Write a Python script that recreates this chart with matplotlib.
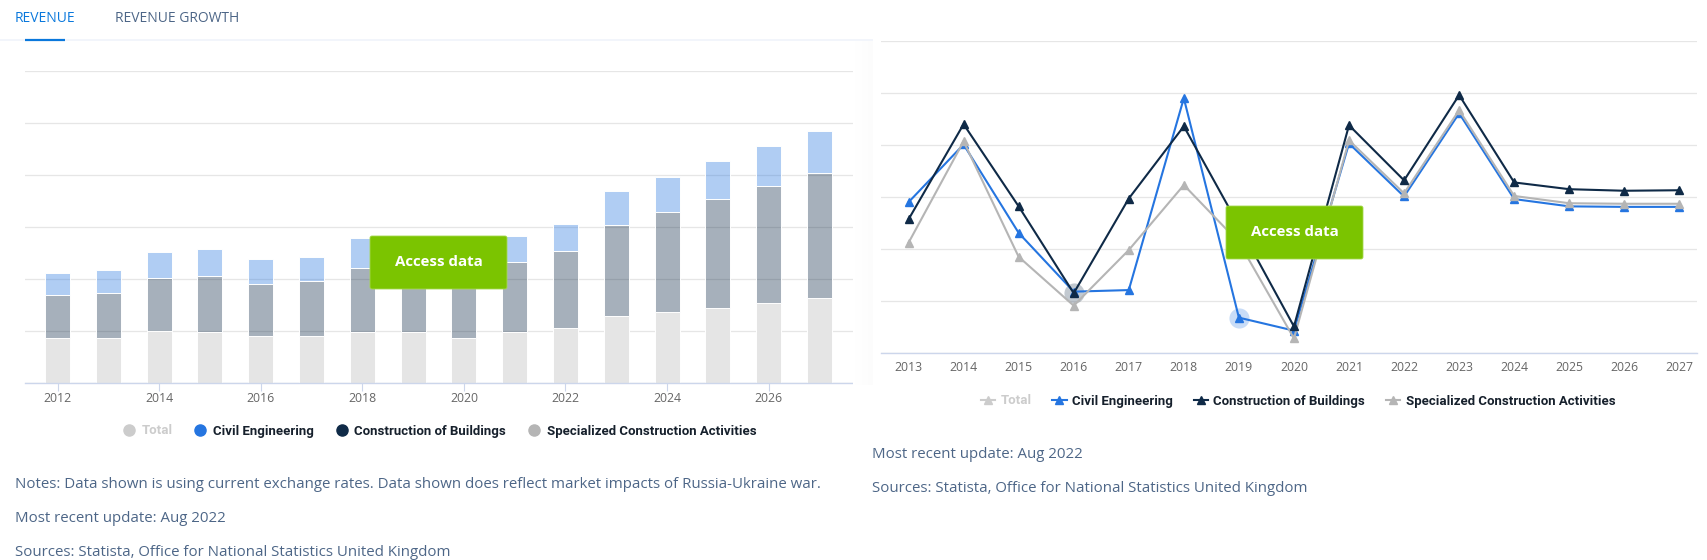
import numpy as np
import matplotlib
matplotlib.use('Agg')
import matplotlib.pyplot as plt
from matplotlib.colors import to_rgba
from matplotlib.lines import Line2D
from matplotlib.patches import FancyBboxPatch

plt.rcParams['font.family'] = ['Open Sans', 'DejaVu Sans']

W, H = 1708, 560

# left panel, stacked revenue
bar_years = list(range(2012, 2028))
specialized = [8.6, 8.6, 10.0, 9.8, 9.0, 9.0, 9.8, 9.8, 8.6, 9.8, 10.5, 12.8, 13.7, 14.4, 15.3, 16.3]
construction = [8.3, 8.8, 10.1, 10.7, 10.0, 10.7, 12.4, 12.2, 12.4, 13.4, 14.8, 17.6, 19.1, 21.0, 22.6, 24.1]
civil = [4.2, 4.3, 5.0, 5.2, 4.8, 4.6, 5.7, 5.7, 6.2, 5.1, 5.2, 6.5, 6.9, 7.3, 7.7, 8.1]

# right panel, revenue growth
line_years = list(range(2013, 2028))
growth_civil = [29.0, 40.1, 23.1, 11.8, 12.1, 49.0, 6.8, 4.3, 40.3, 30.1, 46.1, 29.6, 28.2, 28.1, 28.1]
growth_construction = [25.7, 44.0, 28.2, 11.5, 29.7, 43.6, 24.5, 5.1, 43.8, 33.2, 49.6, 32.8, 31.5, 31.2, 31.3]
growth_specialized = [21.2, 40.7, 18.5, 9.1, 19.8, 32.3, 21.3, 2.8, 40.9, 30.7, 46.7, 30.2, 28.8, 28.7, 28.7]

series_names = ['Total', 'Civil Engineering', 'Construction of Buildings', 'Specialized Construction Activities']

BLUE = '#2575e0'
NAVY = '#0f2a47'
GRAY = '#b5b5b5'
FADED = '#cccccc'
GRID = '#e6e6e6'
AXIS = '#ccd6eb'
NOTE = '#4d6687'
GREEN = '#7bc400'


def px_axes(left, top, right, bottom, **kw):
    # axes placed by pixel box, y counted from the top of the picture
    return fig.add_axes([left / W, 1 - bottom / H, (right - left) / W, (bottom - top) / H], **kw)


def style_axes(ax, ticklen, pad):
    for s in ['top', 'left', 'right']:
        ax.spines[s].set_visible(False)
    ax.spines['bottom'].set_color(AXIS)
    ax.spines['bottom'].set_linewidth(1)
    ax.set_yticks(range(0, 70, 10))
    ax.set_ylim(0, 60)
    ax.yaxis.set_tick_params(length=0, labelleft=False)
    ax.grid(axis='y', color=GRID, linewidth=0.9)
    ax.set_axisbelow(True)
    ax.tick_params(axis='x', length=ticklen, color=AXIS, labelsize=8.8, labelcolor='#666666', pad=pad)


def add_legend(ax, handles, center_px, y_px):
    leg = ax.legend(handles=handles, loc='center', ncol=4, frameon=False,
                    bbox_to_anchor=(center_px / W, 1 - y_px / H), bbox_transform=fig.transFigure,
                    prop={'size': 9.5, 'weight': 'bold', 'family': 'Roboto'},
                    handletextpad=0.4, columnspacing=1.57, handlelength=1.1)
    for i, t in enumerate(leg.get_texts()):
        t.set_color(FADED if i == 0 else '#16202c')
    return leg


fig = plt.figure(figsize=(W / 100, H / 100), dpi=100, facecolor='white')

# bars
ax1 = px_axes(25, 71, 853, 383)
style_axes(ax1, 6, 0.5)
spec = np.array(specialized)
cons = np.array(construction)
edge = dict(edgecolor='white', linewidth=0.7, width=0.49)
ax1.bar(bar_years, spec, color='#e5e5e5', **edge)
ax1.bar(bar_years, cons, bottom=spec, color=to_rgba(NAVY, 0.37), **edge)
ax1.bar(bar_years, civil, bottom=spec + cons, color=to_rgba(BLUE, 0.36), **edge)
ax1.set_xlim(2011.36, 2027.66)
ax1.set_xticks(bar_years[::2])
dots = [Line2D([], [], linestyle='none', marker='o', markersize=8, color=c, label=n)
        for c, n in zip([FADED, BLUE, NAVY, GRAY], series_names)]
add_legend(ax1, dots, 439, 431)

# lines
ax2 = px_axes(881, 41, 1697, 353)
style_axes(ax2, 0, 6)
line_style = dict(marker='^', markersize=5.2, linewidth=1.5)
ax2.plot(line_years, growth_civil, color=BLUE, zorder=3, **line_style)
ax2.plot(line_years, growth_specialized, color=GRAY, zorder=4, **line_style)
ax2.plot(line_years, growth_construction, color=NAVY, zorder=5, **line_style)
# hover halos left in the screenshot
ax2.plot(line_years[3], growth_construction[3], 'o', markersize=14.5, color=NAVY, alpha=0.25, mew=0, zorder=2)
ax2.plot(line_years[6], growth_civil[6], 'o', markersize=14.5, color=BLUE, alpha=0.25, mew=0, zorder=2)
ax2.set_xlim(2012.5, 2027.32)
ax2.set_xticks(line_years)
tris = [Line2D([], [], marker='^', markersize=5.2, linewidth=1.5, color=c, label=n)
        for c, n in zip([FADED, BLUE, NAVY, GRAY], series_names)]
add_legend(ax2, tris, 1298, 401)

# page furniture on a full size overlay, y in pixels from the top
page = fig.add_axes([0, 0, 1, 1], zorder=10)
page.axis('off')

# soft shadow along the edge of the pasted right panel
fade = np.linspace(0, 1, 20)[None, :]
page.imshow(fade, extent=[853, 873, 385, 40], cmap='Greys', vmin=0, vmax=40, aspect='auto', zorder=0)
page.set_xlim(0, W)
page.set_ylim(H, 0)

page.plot([0, 872], [40, 40], color='#f2f5fb', linewidth=1.4)
page.plot([25, 65], [40, 40], color='#0a78dc', linewidth=1.6, solid_capstyle='butt')
page.text(15, 18, 'REVENUE', color='#0a78dc', fontsize=10, va='center')
page.text(115, 18, 'REVENUE GROWTH', color=NOTE, fontsize=10, va='center')

for box_x, box_y in [(370, 236), (1226, 206)]:
    page.add_patch(FancyBboxPatch((box_x + 2, box_y + 2), 133, 49, boxstyle='round,pad=2,rounding_size=2',
                                  facecolor=GREEN, edgecolor='#a5d84f', linewidth=0.6, zorder=5))
    page.text(box_x + 68.5, box_y + 26.5, 'Access data', color='white', fontsize=10.8, fontweight='bold',
              ha='center', va='center', zorder=6)

page.text(15, 484, 'Notes: Data shown is using current exchange rates. Data shown does reflect market impacts of Russia-Ukraine war.',
          color=NOTE, fontsize=10.85, va='center')
page.text(15, 518, 'Most recent update: Aug 2022', color=NOTE, fontsize=10.85, va='center')
page.text(15, 552, 'Sources: Statista, Office for National Statistics United Kingdom', color=NOTE, fontsize=10.85, va='center')
page.text(872, 454, 'Most recent update: Aug 2022', color=NOTE, fontsize=10.85, va='center')
page.text(872, 488, 'Sources: Statista, Office for National Statistics United Kingdom', color=NOTE, fontsize=10.85, va='center')

fig.savefig('out.png', dpi=100)
